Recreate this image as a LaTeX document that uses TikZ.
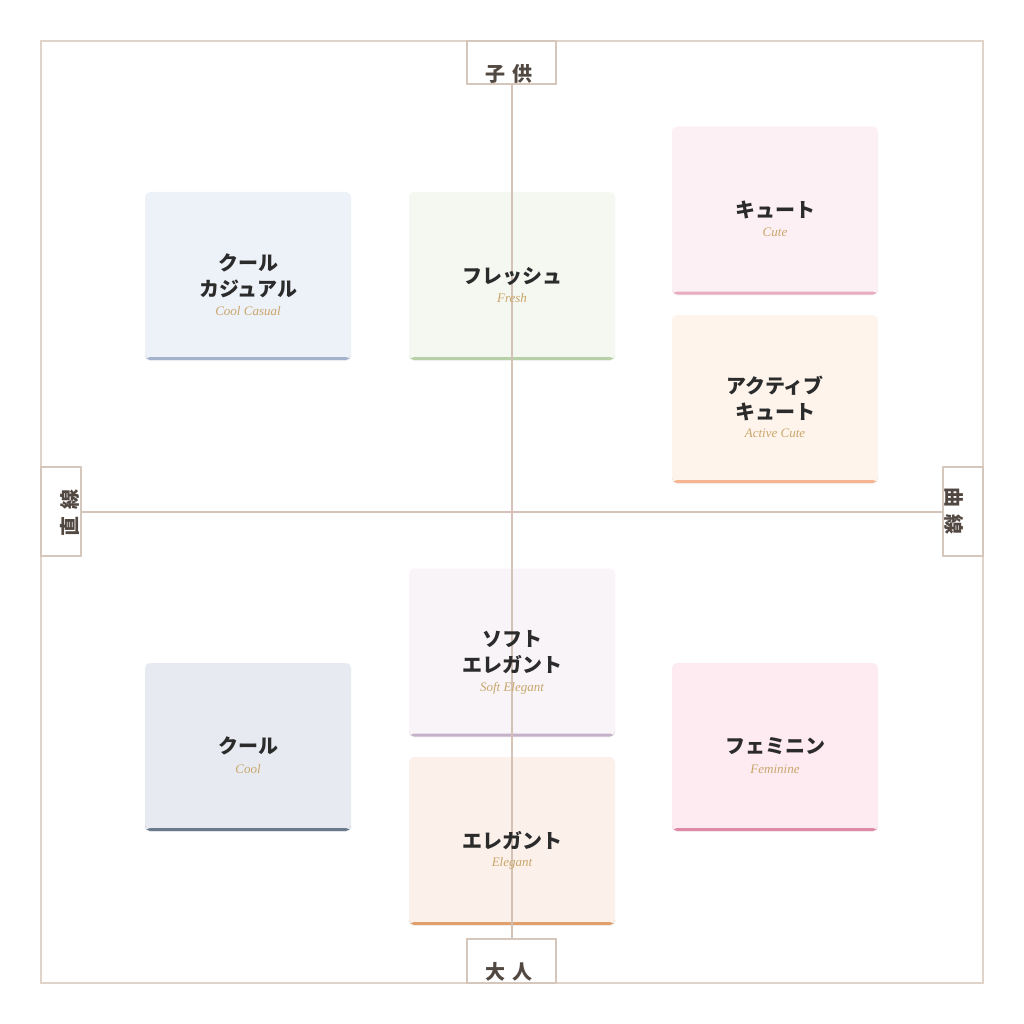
\documentclass[tikz,border=0pt]{standalone}
\usepackage{fontspec}
\setmainfont{Liberation Serif}
\newfontfamily\jp{Noto Sans CJK JP}
\usetikzlibrary{shadows}
\definecolor{framecol}{HTML}{E0D3CA}
\definecolor{boxcol}{HTML}{D6C7BD}
\definecolor{axiscol}{HTML}{D3C0B4}
\definecolor{labcol}{HTML}{524842}
\definecolor{titlecol}{HTML}{2B2B2B}
\definecolor{subcol}{HTML}{C9A66B}
\definecolor{fCC}{HTML}{EDF1F8}\definecolor{bCC}{HTML}{A3B3CC}
\definecolor{fFR}{HTML}{F4F8F1}\definecolor{bFR}{HTML}{B8D0A8}
\definecolor{fCU}{HTML}{FDF0F4}\definecolor{bCU}{HTML}{E8ACC0}
\definecolor{fAC}{HTML}{FEF4EC}\definecolor{bAC}{HTML}{F6B591}
\definecolor{fSE}{HTML}{F8F4F8}\definecolor{bSE}{HTML}{C4B2C8}
\definecolor{fCO}{HTML}{E7EBF1}\definecolor{bCO}{HTML}{6B7A8F}
\definecolor{fFE}{HTML}{FEEBF1}\definecolor{bFE}{HTML}{E08BA5}
\definecolor{fEL}{HTML}{FBF0EA}\definecolor{bEL}{HTML}{DFA06E}
\tikzset{
  card/.style 2 args={rounded corners=5pt, minimum width=206pt, minimum height=168pt,
    inner sep=0pt, draw=none, fill=#1,
    drop shadow={opacity=0.07, shadow xshift=0pt, shadow yshift=-1pt},
    path picture={\fill[#2] ([yshift=3pt]path picture bounding box.south west) rectangle (path picture bounding box.south east);}},
  ttl/.style={font=\jp\bfseries\fontsize{20}{26}\selectfont, text=titlecol, align=center, inner sep=0pt},
  sub/.style={font=\itshape\fontsize{13}{14}\selectfont, text=subcol, inner sep=0pt},
  labbox/.style={draw=boxcol, line width=1.1pt, fill=white, inner sep=0pt},
  labtxt/.style={font=\jp\bfseries\fontsize{20}{20}\selectfont, text=labcol, inner sep=0pt},
  axis/.style={draw=axiscol, line width=2pt, opacity=0.95}
}
\begin{document}
\begin{tikzpicture}[x=1pt,y=-1pt]
\useasboundingbox (0,0) rectangle (1024,1024);
\fill[white] (0,0) rectangle (1024,1024);
\node[draw=framecol, line width=1.1pt, minimum width=942pt, minimum height=942pt, inner sep=0pt] (frame) at (512,512) {};

% cards
\node[card={fCC}{bCC}] (cc) at (248,276) {};
\node[card={fFR}{bFR}] (fr) at (512,276) {};
\node[card={fCU}{bCU}] (cu) at (775,210.5) {};
\node[card={fAC}{bAC}] (ac) at (775,399) {};
\node[card={fSE}{bSE}] (se) at (512,652.5) {};
\node[card={fCO}{bCO}] (co) at (248,747) {};
\node[card={fFE}{bFE}] (fe) at (775,747) {};
\node[card={fEL}{bEL}] (el) at (512,841) {};

% label boxes
\node[labbox, minimum width=89pt, minimum height=43pt] (top) at (511.5,62.5) {};
\node[labbox, minimum width=89pt, minimum height=44pt] (bot) at (511.5,961) {};
\node[labbox, minimum width=40pt, minimum height=89pt] (lft) at (61,511.5) {};
\node[labbox, minimum width=40pt, minimum height=89pt] (rgt) at (963,511.5) {};

% axes
\draw[axis] (top.south) -- (bot.north);
\draw[axis] (lft.east) -- (rgt.west);

% axis labels
\node[labtxt] (ttop) at (509,74) {子\hspace{7pt}供};
\node[labtxt] (tbot) at (509,972) {大\hspace{7pt}人};
\node[labtxt, rotate=90] (tlft) at (70,513) {直\hspace{7pt}線};
\node[labtxt, rotate=-90] (trgt) at (954,511) {曲\hspace{7pt}線};

% titles
\node[ttl] (tcc) at (248,276) {クール\\カジュアル};
\node[sub] (scc) at (248,311) {Cool Casual};
\node[ttl] (tfr) at (512,276) {フレッシュ};
\node[sub] (sfr) at (512,298) {Fresh};
\node[ttl] (tcu) at (775,210) {キュート};
\node[sub] (scu) at (775,232) {Cute};
\node[ttl] (tac) at (775,398) {アクティブ\\キュート};
\node[sub] (sac) at (775,433) {Active Cute};
\node[ttl] (tse) at (512,652) {ソフト\\エレガント};
\node[sub] (sse) at (512,688) {Soft Elegant};
\node[ttl] (tco) at (248,746) {クール};
\node[sub] (sco) at (248,769) {Cool};
\node[ttl] (tfe) at (775,746) {フェミニン};
\node[sub] (sfe) at (775,769) {Feminine};
\node[ttl] (tel) at (512,841) {エレガント};
\node[sub] (sel) at (512,863) {Elegant};
\end{tikzpicture}
\end{document}
